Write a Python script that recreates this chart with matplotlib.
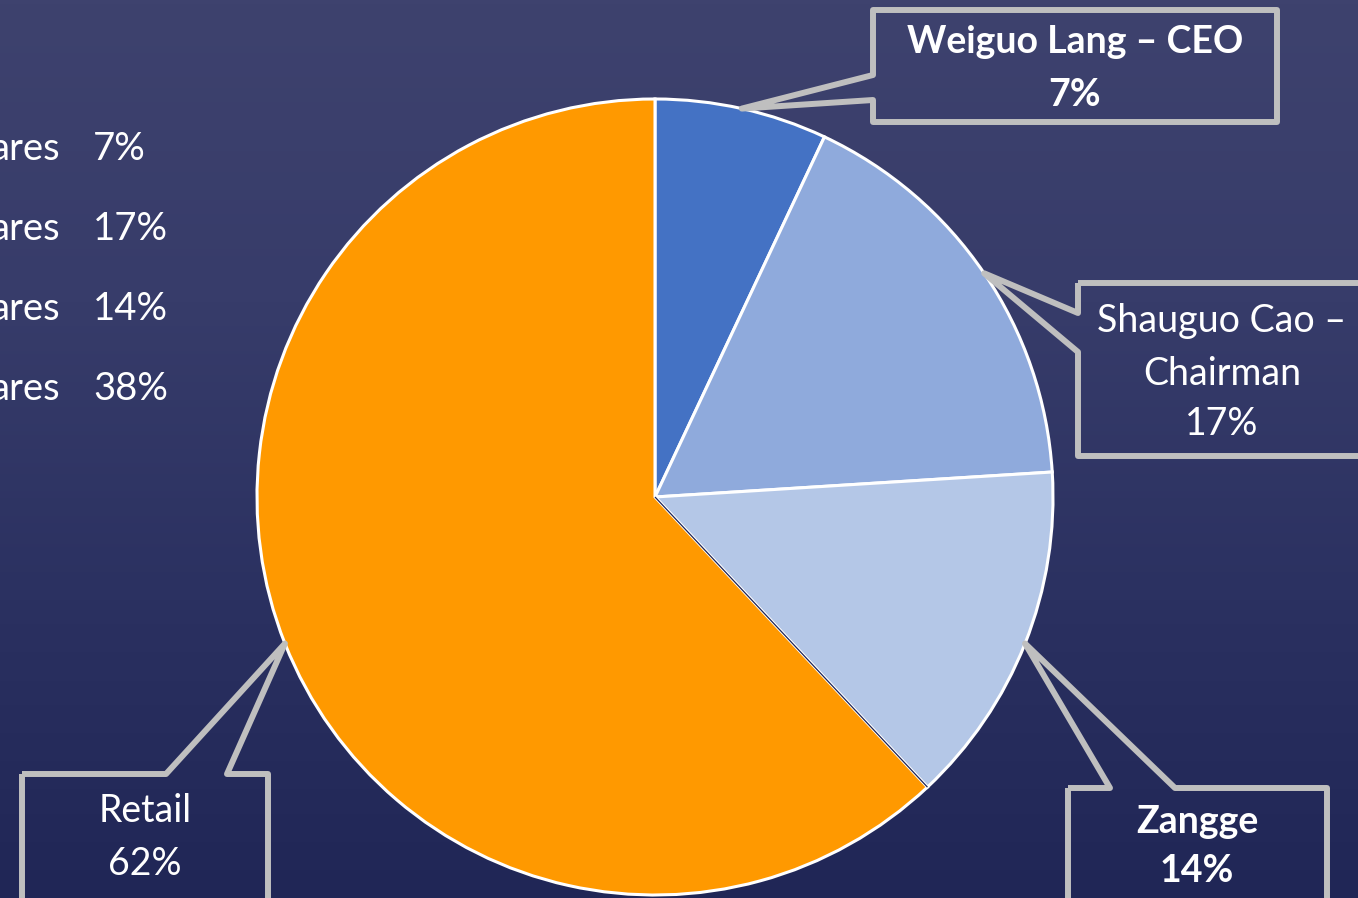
import numpy as np
import matplotlib.pyplot as plt
from matplotlib.patches import Polygon
from matplotlib.colors import LinearSegmentedColormap

# ownership split (clockwise from 12 o'clock)
holders = ['Weiguo Lang – CEO', 'Shauguo Cao –\nChairman', 'Zangge', 'Retail']
shares = [7, 17, 14, 62]
colors = ['#4472c4', '#8faadc', '#b4c7e7', '#ff9900']
bold = [True, False, True, False]

# partly visible list on the left edge
side_names = ['ares', 'ares', 'ares', 'ares']
side_pcts = ['7%', '17%', '14%', '38%']

W, H = 1358, 898
plt.rcParams['font.family'] = ['Lato', 'DejaVu Sans']

fig = plt.figure(figsize=(W / 100, H / 100), dpi=100)
ax = fig.add_axes([0, 0, 1, 1])

# navy background
bg = LinearSegmentedColormap.from_list('bg', ['#3e426e', '#373c6a', '#2b3161', '#202656'])
grad = np.linspace(0, 1, 256).reshape(-1, 1)
ax.imshow(grad, extent=[0, W, 0, H], origin='upper', cmap=bg, aspect='auto', zorder=0)

cx, cy, R = 655, H - 497, 398
wedges, _ = ax.pie(shares, colors=colors, startangle=90, counterclock=False,
                   center=(cx, cy), radius=R,
                   wedgeprops=dict(edgecolor='white', linewidth=2.2, zorder=2))

# thin dark seam between Zangge and Retail
ang = np.deg2rad(wedges[2].theta1)
ax.plot([cx, cx + R * np.cos(ang)], [cy, cy + R * np.sin(ang)],
        color='#1f2555', lw=0.9, zorder=3, solid_capstyle='butt')

ax.set_xlim(0, W)
ax.set_ylim(0, H)
ax.set_aspect('auto')
ax.axis('off')


def callout(box, side, base, tip):
    x0, y0, x1, y1 = box
    if side == 'left':
        pts = [(x0, y0), (x1, y0), (x1, y1), (x0, y1), (x0, base[1]), None, (x0, base[0])]
    else:
        pts = [(x0, y0), (base[0], y0), None, (base[1], y0), (x1, y0), (x1, y1), (x0, y1)]
    pts = [tip if p is None else (p[0], H - p[1]) for p in pts]
    ax.add_patch(Polygon(pts, closed=True, fill=False, edgecolor='#bfbfbf',
                         lw=4.3, joinstyle='round', zorder=4))


# box geometry in pixels (top-left origin)
boxes = [(873, 10, 1277, 122), (1078, 283, 1420, 456), (1068, 788, 1327, 960), (22, 774, 268, 960)]
sides = ['left', 'left', 'top', 'top']
bases = [(75, 100), (313, 352), (1110, 1175), (166, 227)]
text_x = [1075, 1222, 1197, 145]
text_y = [[53, 106], [332, 385, 435], [833, 882], [822, 875]]

for w, lab, s, b, box, side, base, tx, tys in zip(wedges, holders, shares, bold, boxes,
                                                  sides, bases, text_x, text_y):
    mid = np.deg2rad((w.theta1 + w.theta2) / 2)
    tip = (cx + R * np.cos(mid), cy + R * np.sin(mid))
    callout(box, side, base, tip)
    lines = lab.split('\n') + [f'{s}%']
    for line, ty in zip(lines, tys):
        ax.text(tx, H - ty, line, ha='center', va='baseline', color='white',
                fontsize=27, fontweight='bold' if b else 'normal', zorder=5)

for i, (nm, pc) in enumerate(zip(side_names, side_pcts)):
    yb = H - (160 + 80 * i)
    ax.text(60, yb, nm, ha='right', va='baseline', color='white', fontsize=27.5)
    ax.text(93, yb, pc, ha='left', va='baseline', color='white', fontsize=27.5)

fig.savefig('out.png', dpi=100)
